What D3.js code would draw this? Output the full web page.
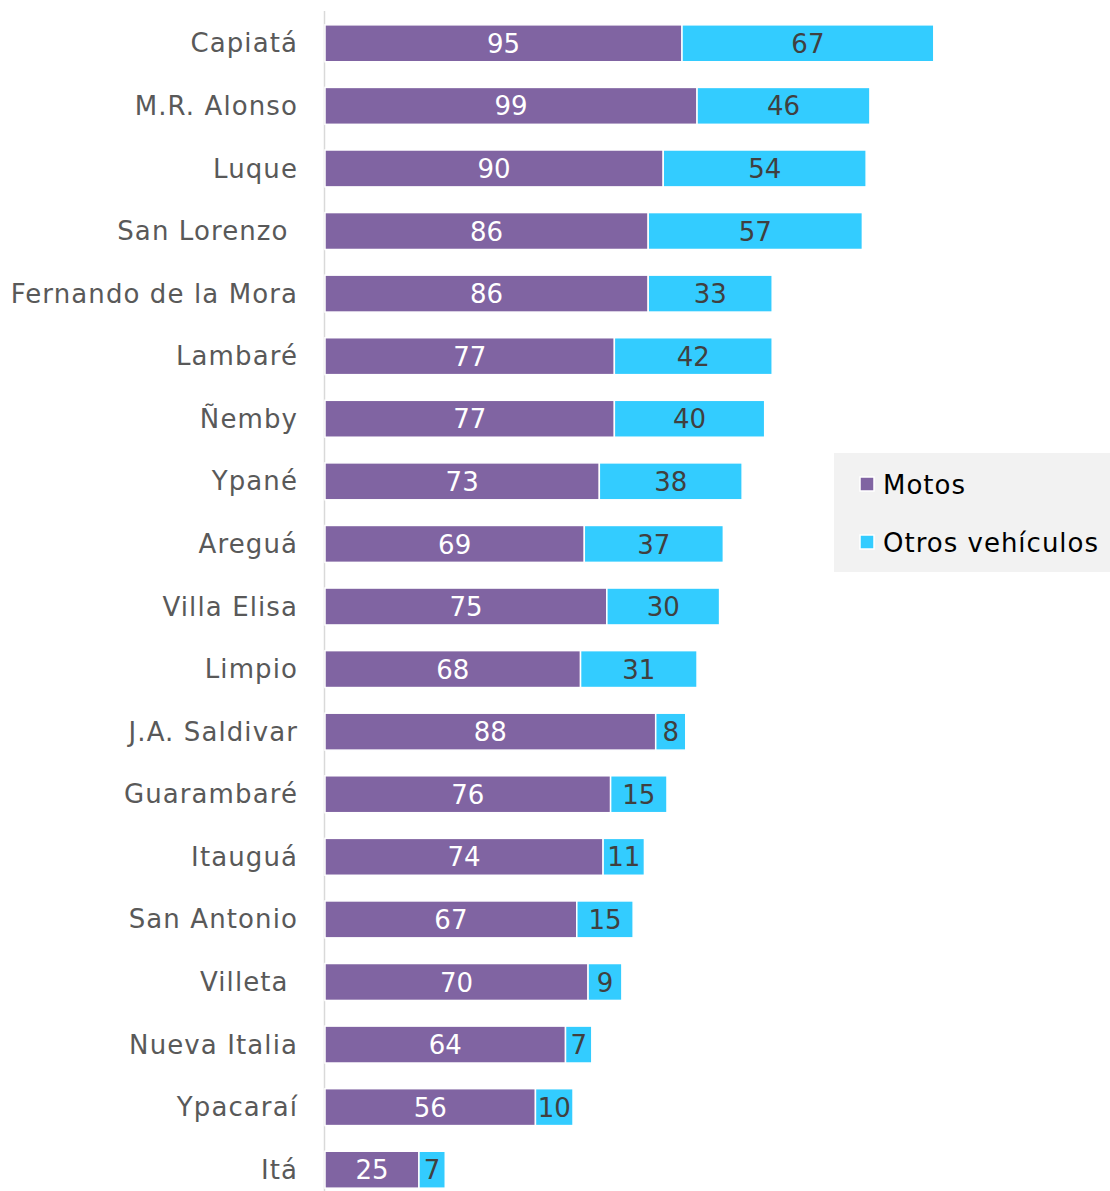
<!DOCTYPE html>
<html>
<head>
<meta charset="utf-8">
<script src="https://cdn.jsdelivr.net/npm/d3@7"></script>
<style>
  body { margin: 0; background: #fff; }
  text { font-family: 'DejaVu Sans', sans-serif; }
</style>
</head>
<body>
<script>
const categories = ['Capiatá', 'M.R. Alonso', 'Luque', 'San Lorenzo ', 'Fernando de la Mora', 'Lambaré', 'Ñemby',
    'Ypané', 'Areguá', 'Villa Elisa', 'Limpio', 'J.A. Saldivar', 'Guarambaré', 'Itauguá', 'San Antonio',
    'Villeta ', 'Nueva Italia', 'Ypacaraí', 'Itá']
const motos = [95, 99, 90, 86, 86, 77, 77, 73, 69, 75, 68, 88, 76, 74, 67, 70, 64, 56, 25]
const otros = [67, 46, 54, 57, 33, 42, 40, 38, 37, 30, 31, 8, 15, 11, 15, 9, 7, 10, 7]
const seriesNames = ['Motos', 'Otros vehículos']
const colors = ['#8064A2', '#33CCFF']

const width = 1110
const height = 1191

const svg = d3.select('body').append('svg')
    .attr('width', width)
    .attr('height', height)

const data = categories.map((c, i) => ({ cat: c, motos: motos[i], otros: otros[i] }))

const x = d3.scaleLinear()
    .domain([0, 210])
    .range([325, 325 + 210 * 3.758])

const y = d3.scaleBand()
    .domain(categories)
    .range([12, 1201])
    .paddingInner(0.41)
    .paddingOuter(0.205)

// axis line
svg.append('line')
    .attr('x1', 324.5).attr('x2', 324.5)
    .attr('y1', 11).attr('y2', height)
    .attr('stroke', '#d9d9d9')
    .attr('stroke-width', 1.5)

// category labels
svg.selectAll('text.cat')
    .data(data)
    .enter()
    .append('text')
    .attr('class', 'cat')
    .attr('x', 298)
    .attr('y', d => y(d.cat) + y.bandwidth() / 2)
    .attr('dy', '0.35em')
    .attr('text-anchor', 'end')
    .style('white-space', 'pre')
    .style('font-size', '26px')
    .style('letter-spacing', '1.1px')
    .style('fill', '#595959')
    .text(d => d.cat)

const stack = d3.stack().keys(['motos', 'otros'])(data)

const groups = svg.selectAll('g.series')
    .data(stack)
    .enter()
    .append('g')
    .attr('class', 'series')

groups.selectAll('rect')
    .data(d => d)
    .enter()
    .append('rect')
    .attr('x', d => x(d[0]))
    .attr('y', d => y(d.data.cat))
    .attr('width', d => x(d[1]) - x(d[0]))
    .attr('height', y.bandwidth())
    .attr('fill', function () { return colors[stack.indexOf(d3.select(this.parentNode).datum())] })
    .attr('stroke', '#fff')
    .attr('stroke-width', 1.5)

groups.each(function (s, si) {
    d3.select(this).selectAll('text')
        .data(s)
        .enter()
        .append('text')
        .attr('x', d => (x(d[0]) + x(d[1])) / 2)
        .attr('y', d => y(d.data.cat) + y.bandwidth() / 2)
        .attr('dy', '0.37em')
        .attr('text-anchor', 'middle')
        .style('font-size', '26px')
        .style('fill', si === 0 ? '#fff' : '#404040')
        .text(d => d[1] - d[0])
})

// legend
const legend = svg.append('g')
svg.insert('rect', 'g')
    .attr('x', 834).attr('y', 453)
    .attr('width', 276).attr('height', 119)
    .attr('fill', '#f2f2f2')

seriesNames.forEach((name, i) => {
    const ly = 484 + i * 58
    legend.append('rect')
        .attr('x', 860).attr('y', ly - 7)
        .attr('width', 14).attr('height', 14)
        .attr('fill', colors[i])
        .attr('stroke', '#fff')
        .attr('stroke-width', 1.5)
    legend.append('text')
        .attr('x', 883)
        .attr('y', ly)
        .attr('dy', '0.37em')
        .style('font-size', '26px')
        .style('letter-spacing', '1px')
        .style('fill', '#000')
        .text(name)
})
</script>
</body>
</html>
